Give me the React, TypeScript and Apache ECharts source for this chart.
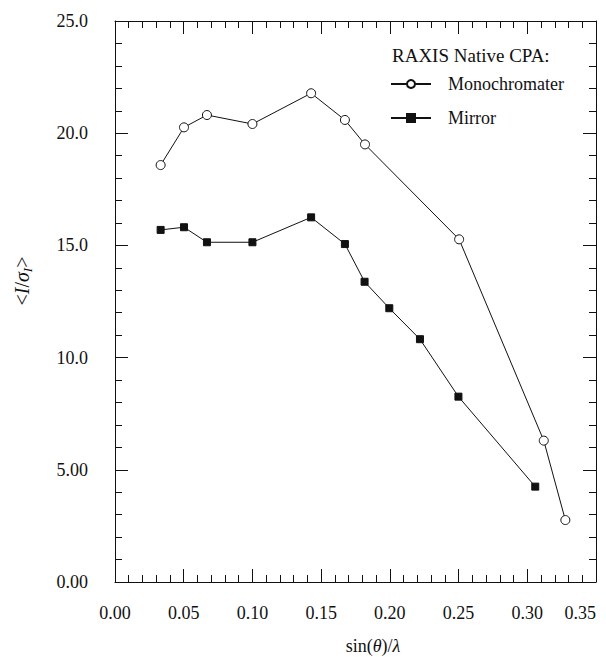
import React, { useEffect, useRef } from "react";
import * as echarts from "echarts";

// sin(theta)/lambda values and <I/sigma_I> for each detector setup
const monoX = [0.0332, 0.0502, 0.0669, 0.1, 0.1427, 0.1673, 0.1819, 0.2504, 0.312, 0.3277];
const monoY = [18.58, 20.26, 20.81, 20.41, 21.78, 20.59, 19.5, 15.27, 6.3, 2.76];
const mirrorX = [0.0332, 0.0502, 0.0669, 0.1, 0.1427, 0.1673, 0.1816, 0.1996, 0.2219, 0.2499, 0.3058];
const mirrorY = [15.69, 15.81, 15.14, 15.14, 16.25, 15.06, 13.38, 12.2, 10.82, 8.26, 4.25];

const seriesNames = ["Monochromater", "Mirror"];

const yTickLabels: Record<string, string> = {
  "0": "0.00",
  "5": "5.00",
  "10": "10.0",
  "15": "15.0",
  "20": "20.0",
  "25": "25.0",
};

const FONT = "Liberation Serif";
const INK = "#111";

export default function App() {
  const ref = useRef<HTMLDivElement>(null);

  useEffect(() => {
    if (!ref.current) return;
    const chart = echarts.init(ref.current, null, { renderer: "svg" });

    const tickCommon = {
      axisLine: { show: true, onZero: false, lineStyle: { color: INK, width: 1 } },
      axisTick: { show: true, inside: true, length: 13, lineStyle: { color: INK, width: 1 } },
      minorTick: { show: true, splitNumber: 5, length: 7, lineStyle: { color: INK, width: 1 } },
      splitLine: { show: false },
      minorSplitLine: { show: false },
    };

    const xBase = { type: "value", min: 0, max: 0.35, interval: 0.05, ...tickCommon };
    const yBase = { type: "value", min: 0, max: 25, interval: 5, ...tickCommon };

    // legend keys come from the legend component; their captions are set as serif text
    const legendRowY = [84, 118];
    const legendCaptions = seriesNames.map((name, i) => ({
      type: "text",
      x: 448,
      y: legendRowY[i],
      style: {
        text: name,
        fontFamily: FONT,
        fontSize: 18,
        fill: INK,
        align: "left",
        verticalAlign: "middle",
      },
    }));

    chart.setOption({
      animation: false,
      backgroundColor: "#fff",
      textStyle: { fontFamily: FONT, color: INK },
      title: {
        text: "RAXIS Native CPA:",
        left: 387,
        top: 41,
        textStyle: { fontFamily: FONT, fontSize: 19, fontWeight: "normal", color: INK },
      },
      legend: {
        orient: "vertical",
        left: 385,
        top: 74,
        itemWidth: 40,
        itemHeight: 10,
        itemGap: 24,
        formatter: () => "",
        textStyle: { fontFamily: FONT, fontSize: 18, color: INK },
        data: seriesNames,
      },
      grid: { left: 115, right: 10, top: 21, bottom: 75, containLabel: false },
      graphic: [
        ...legendCaptions,
        {
          type: "text",
          x: 373,
          y: 646,
          style: {
            text: "sin({i|θ})/{i|λ}",
            fontFamily: FONT,
            fontSize: 18,
            fill: INK,
            align: "center",
            verticalAlign: "middle",
            rich: {
              i: { fontFamily: FONT, fontSize: 18, fontStyle: "italic", fill: INK },
            },
          },
        },
        {
          type: "text",
          x: 22,
          y: 281,
          rotation: Math.PI / 2,
          style: {
            text: "{t|<}{i|I}{t|/}{i|σ}{s|I}{t|>}",
            fill: INK,
            align: "center",
            verticalAlign: "middle",
            rich: {
              t: { fontFamily: FONT, fontSize: 20, fill: INK },
              i: { fontFamily: FONT, fontSize: 20, fontStyle: "italic", fill: INK },
              s: { fontFamily: FONT, fontSize: 13, fontStyle: "italic", fill: INK, padding: [10, 0, 0, 0] },
            },
          },
        },
      ],
      xAxis: [
        {
          ...xBase,
          position: "bottom",
          axisLabel: {
            show: true,
            margin: 22,
            fontFamily: FONT,
            fontSize: 18,
            color: INK,
            alignMaxLabel: "right",
            formatter: (v: number) => v.toFixed(2),
          },
        },
        { ...xBase, position: "top", axisLabel: { show: false } },
      ],
      yAxis: [
        {
          ...yBase,
          position: "left",
          axisLabel: {
            show: true,
            margin: 27,
            fontFamily: FONT,
            fontSize: 18,
            color: INK,
            formatter: (v: number) => yTickLabels[String(v)] ?? String(v),
          },
        },
        { ...yBase, position: "right", axisLabel: { show: false } },
      ],
      series: [
        {
          name: seriesNames[0],
          type: "line",
          data: monoX.map((x, i) => [x, monoY[i]]),
          symbol: "circle",
          symbolSize: 9,
          lineStyle: { color: INK, width: 1 },
          itemStyle: { color: "#fff", borderColor: INK, borderWidth: 1 },
        },
        {
          name: seriesNames[1],
          type: "line",
          data: mirrorX.map((x, i) => [x, mirrorY[i]]),
          symbol: "rect",
          symbolSize: 7,
          lineStyle: { color: INK, width: 1 },
          itemStyle: { color: INK, borderColor: INK, borderWidth: 1 },
        },
      ],
    });

    return () => chart.dispose();
  }, []);

  return (
    <div
      ref={ref}
      style={{ position: "absolute", left: 0, top: 0, width: 606, height: 657, background: "#fff" }}
    />
  );
}
